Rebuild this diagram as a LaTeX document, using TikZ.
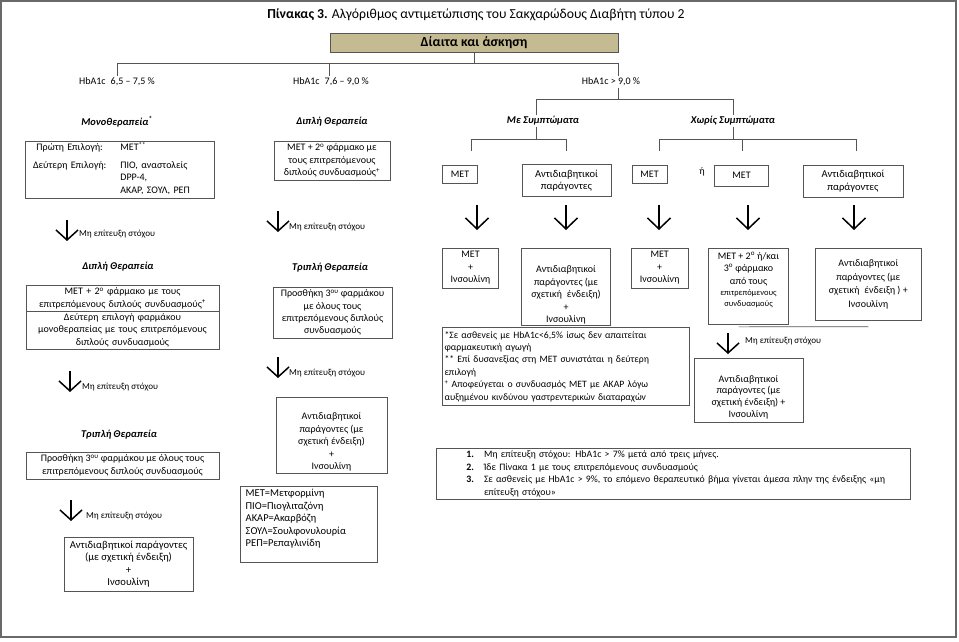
\documentclass[tikz,border=0pt]{standalone}
\usepackage{fontspec}
\setmainfont{Carlito}
\usetikzlibrary{shapes}
\usetikzlibrary{positioning}
\usetikzlibrary{arrows.meta}
\definecolor{dietfill}{RGB}{197,187,147}
\definecolor{linegray}{RGB}{85,85,85}
\definecolor{framegray}{RGB}{105,105,105}
\newcommand{\toppad}[1]{\rule{0pt}{#1}}
\newcommand{\botpad}[1]{\rule[-#1]{0pt}{#1}}
\tikzset{
    drugbox/.style = {rectangle, draw=linegray, line width=0.7pt, align=center, inner sep=1pt, font=\fontsize{10}{12.5}\selectfont},
    dietbox/.style = {rectangle, draw=linegray, line width=0.7pt, fill=dietfill, inner sep=1pt, font=\fontsize{13.8}{15}\selectfont\bfseries},
    heading/.style = {inner sep=1pt, font=\fontsize{10.4}{12}\selectfont\bfseries\itshape},
    hbnode/.style = {inner sep=1.5pt, font=\fontsize{10}{12}\selectfont},
    treeline/.style = {draw=linegray, line width=0.7pt},
    bigarrow/.style = {line width=1.5pt, -{Straight Barb[length=11pt,width=23pt]}},
    failarrow/.style = {line width=1.5pt, -{Straight Barb[length=10pt,width=22pt]}},
    failtext/.style = {anchor=west, inner sep=0pt, font=\fontsize{9.1}{10}\selectfont}
}

\begin{document}
\begin{tikzpicture}[x=1pt, y=-1pt]
  \useasboundingbox (0,0) rectangle (959,641);
  \draw[framegray, line width=1.5pt] (1,1) rectangle (956,637);

  \node[font=\fontsize{13.7}{15}\selectfont] (title) at (476,15) {\textbf{Πίνακας 3.} Αλγόριθμος αντιμετώπισης του Σακχαρώδους Διαβήτη τύπου 2};
  \node[dietbox, minimum width=288, minimum height=19] (diet) at (474,42.5) {Δίαιτα και άσκηση};

  % HbA1c branches
  \node[hbnode] (hbl) at (117,82) {HbA1c\enspace 6,5 – 7,5 \%};
  \node[hbnode] (hbm) at (331,82) {HbA1c\enspace 7,6 – 9,0 \%};
  \node[hbnode] (hbh) at (611,82) {HbA1c > 9,0 \%};
  \draw[treeline] (diet.south) -- ++(0,11) coordinate (fork1);
  \draw[treeline] (hbl.north) |- (fork1) -| (hbh.north -| diet.east);
  \draw[treeline] (diet.west |- fork1) -- (diet.west |- hbm.north);

  \node[heading] (mono) at (117,122) {Μονοθεραπεία\textsuperscript{*}};
  \node[heading] (dual) at (332,122) {Διπλή Θεραπεία};
  \node[heading] (withsym) at (543,121) {Με Συμπτώματα};
  \node[heading] (nosym) at (733,121) {Χωρίς Συμπτώματα};
  \draw[treeline] (hbh.south -| diet.east) -- ++(0,12) coordinate (fork2);
  \draw[treeline] ([xshift=-7pt]withsym.north) |- (fork2) -| (nosym.north);
  \draw[treeline] ([xshift=-7pt]withsym.south) -- ++(0,12.5) coordinate (fork3);
  \draw[treeline] (fork3) -- ++(-65,0) -- ++(0,12);
  \draw[treeline] (fork3) -- ++(30,0) -- ++(0,12);
  \draw[treeline] (nosym.south) -- ++(0,12.5) coordinate (fork4);
  \draw[treeline] (fork4) -- ++(-74,0) -- ++(0,12);
  \draw[treeline] (fork4) -- ++(9,0) -- ++(0,12);
  \draw[treeline] (fork4) -- ++(123,0) -- ++(0,12);

  % first step
  \node[drugbox, align=left, text width=173, inner xsep=8pt, minimum height=57] (monobox) at (119.5,169.5)
    {\begin{tabular}{@{}c@{\hspace{14pt}}l@{}}
      Πρώτη Επιλογή: & ΜΕΤ\textsuperscript{**}\\[5pt]
      Δεύτερη Επιλογή: & ΠΙΟ, αναστολείς\\
      & DPP-4,\\
      & ΑΚΑΡ, ΣΟΥΛ, ΡΕΠ
    \end{tabular}};
  \node[drugbox, minimum width=116, minimum height=39] (dualbox) at (332,160.5)
    {ΜΕΤ + 2\textsuperscript{ο} φάρμακο με\\τους επιτρεπόμενους\\διπλούς συνδυασμούς\textsuperscript{+}};
  \node[drugbox, minimum width=35, minimum height=18] (met1) at (460,174) {ΜΕΤ};
  \node[drugbox, minimum width=89, minimum height=32, font=\fontsize{10.5}{12.5}\selectfont] (anti1) at (566.5,180.5) {Αντιδιαβητικοί\\παράγοντες};
  \node[drugbox, minimum width=35, minimum height=18] (met2) at (649.5,174) {ΜΕΤ};
  \node[hbnode] (orword) at (702,172) {ή};
  \node[drugbox, minimum width=54, minimum height=21] (met3) at (741.5,175.5) {ΜΕΤ};
  \node[drugbox, minimum width=100, minimum height=32, font=\fontsize{10.5}{12.5}\selectfont] (anti2) at (853,181) {Αντιδιαβητικοί\\παράγοντες};

  \foreach \n/\x in {1/477,2/566,3/659,4/748,5/854}
  {
    \coordinate (up\n) at (\x,205);
    \coordinate (dn\n) at (\x,230);
    \draw[bigarrow] (up\n) -- (dn\n);
  }

  % insulin step
  \node[drugbox, minimum width=56.5, minimum height=40] (metins1) at (470.5,268) {ΜΕΤ\\+\\Ινσουλίνη};
  \node[drugbox, minimum width=88.5, minimum height=77.5] (antins1) at (566,286.8)
    {\toppad{23pt}Αντιδιαβητικοί\\παράγοντες (με\\σχετική\enspace ένδειξη)\\+\\Ινσουλίνη};
  \node[drugbox, minimum width=56.5, minimum height=40] (metins2) at (659.7,268) {ΜΕΤ\\+\\Ινσουλίνη};
  \node[drugbox, minimum width=80.3, minimum height=76.6] (combo) at (748.5,286.5)
    {ΜΕΤ + 2\textsuperscript{ο} ή/και\\3\textsuperscript{ο} φάρμακο\\από τους\\[-1.5pt]{\fontsize{8.5}{11}\selectfont επιτρεπόμενους}\\[-1.5pt]{\fontsize{8.5}{11}\selectfont συνδυασμούς}\botpad{15pt}};
  \node[drugbox, minimum width=105.3, minimum height=72.4] (antins2) at (868.3,284.2)
    {Αντιδιαβητικοί\\[1pt]παράγοντες (με\\[1pt]σχετική\enspace ένδειξη ) +\\[1pt]Ινσουλίνη};
  \draw[treeline] ([xshift=-9.8pt,yshift=-1.7pt]combo.south) -- ([yshift=-6pt]antins2.south);

  \node[drugbox, align=left, text width=242.5, inner xsep=2pt, minimum height=78.6, font=\fontsize{9.7}{12.4}\selectfont] (footbox) at (565.8,366.5)
    {*Σε ασθενείς με HbA1c<6,5\% ίσως δεν απαιτείται\\φαρμακευτική αγωγή\\{}** Επί δυσανεξίας στη ΜΕΤ συνιστάται η δεύτερη\\επιλογή\\\textsuperscript{+} Αποφεύγεται ο συνδυασμός ΜΕΤ με ΑΚΑΡ λόγω\\αυξημένου κινδύνου γαστρεντερικών διαταραχών};
  \node[drugbox, minimum width=109, minimum height=63.6, font=\fontsize{10}{11.6}\selectfont] (antins3) at (748.5,390.5)
    {\toppad{20pt}Αντιδιαβητικοί\\παράγοντες (με\\σχετική ένδειξη) +\\Ινσουλίνη};
  \node[drugbox, align=left, text width=474.8, inner xsep=0pt, minimum height=50.4, font=\fontsize{9.8}{12.4}\selectfont] (stepsbox) at (673.4,473.8)
    {\hspace*{30.4pt}\makebox[9pt][l]{\textbf{1.}}\hspace{8.6pt}Μη επίτευξη στόχου: HbA1c > 7\% μετά από τρεις μήνες.\\
     \hspace*{30.4pt}\makebox[9pt][l]{\textbf{2.}}\hspace{8.6pt}Ίδε Πίνακα 1 με τους επιτρεπόμενους συνδυασμούς\\
     \hspace*{30.4pt}\makebox[9pt][l]{\textbf{3.}}\hspace{8.6pt}Σε ασθενείς με HbA1c > 9\%, το επόμενο θεραπευτικό βήμα γίνεται άμεσα πλην της ένδειξης «μη\\
     \hspace*{48pt}επίτευξη στόχου»};

  % left and middle columns
  \node[heading] (dual2) at (118,267) {Διπλή Θεραπεία};
  \node[rectangle split, rectangle split parts=2, draw=linegray, line width=0.7pt, align=center, text width=189, inner xsep=2pt, inner ysep=2pt, font=\fontsize{10}{12.3}\selectfont, anchor=north] (dualsplit) at (122.5,285)
    {ΜΕΤ + 2\textsuperscript{ο} φάρμακο με τους\\επιτρεπόμενους διπλούς συνδυασμούς\textsuperscript{+}\nodepart{two}Δεύτερη επιλογή φαρμάκου\\μονοθεραπείας με τους επιτρεπόμενους\\διπλούς συνδυασμούς};
  \node[heading] (triple1) at (330,268) {Τριπλή Θεραπεία};
  \node[drugbox, minimum width=119, minimum height=51, font=\fontsize{10}{12.3}\selectfont] (triplebox1) at (332.5,312.5)
    {Προσθήκη 3\textsuperscript{ου} φαρμάκου\\με όλους τους\\επιτρεπόμενους διπλούς\\συνδυασμούς};
  \node[drugbox, minimum width=111, minimum height=76] (insbox1) at (331.5,435)
    {\toppad{21.5pt}Αντιδιαβητικοί\\παράγοντες (με\\σχετική ένδειξη)\\+\\Ινσουλίνη};
  \node[drugbox, align=left, text width=127, inner xsep=5pt, minimum height=76, font=\fontsize{10.5}{12.5}\selectfont] (legend) at (309.2,524.7)
    {ΜΕΤ=Μετφορμίνη\\ΠΙΟ=Πιογλιταζόνη\\ΑΚΑΡ=Ακαρβόζη\\ΣΟΥΛ=Σουλφονυλουρία\\ΡΕΠ=Ρεπαγλινίδη\botpad{13.5pt}};
  \node[heading] (triple2) at (119,435) {Τριπλή Θεραπεία};
  \node[drugbox, minimum width=193, minimum height=27] (triplebox2) at (122.5,465.5)
    {Προσθήκη 3\textsuperscript{ου} φαρμάκου με όλους τους\\επιτρεπόμενους διπλούς συνδυασμούς};
  \node[drugbox, minimum width=129, minimum height=54, font=\fontsize{10.6}{12.3}\selectfont] (insbox2) at (128.5,564)
    {Αντιδιαβητικοί παράγοντες\\(με σχετική ένδειξη)\\+\\Ινσουλίνη};

  \foreach \n/\ax/\ay/\tx/\ty in {1/67/220/79/234, 2/278/211/289/227, 3/70/371/82/387, 4/278/357/289/373, 5/71/500/86/516, 6/728/333/745/341}
  {
    \coordinate (ftop\n) at (\ax,\ay);
    \coordinate (fbot\n) at (\ax,\ay+21);
    \draw[failarrow] (ftop\n) -- (fbot\n);
    \node[failtext] (fail\n) at (\tx,\ty) {Μη επίτευξη στόχου};
  }

\end{tikzpicture}
\end{document}
